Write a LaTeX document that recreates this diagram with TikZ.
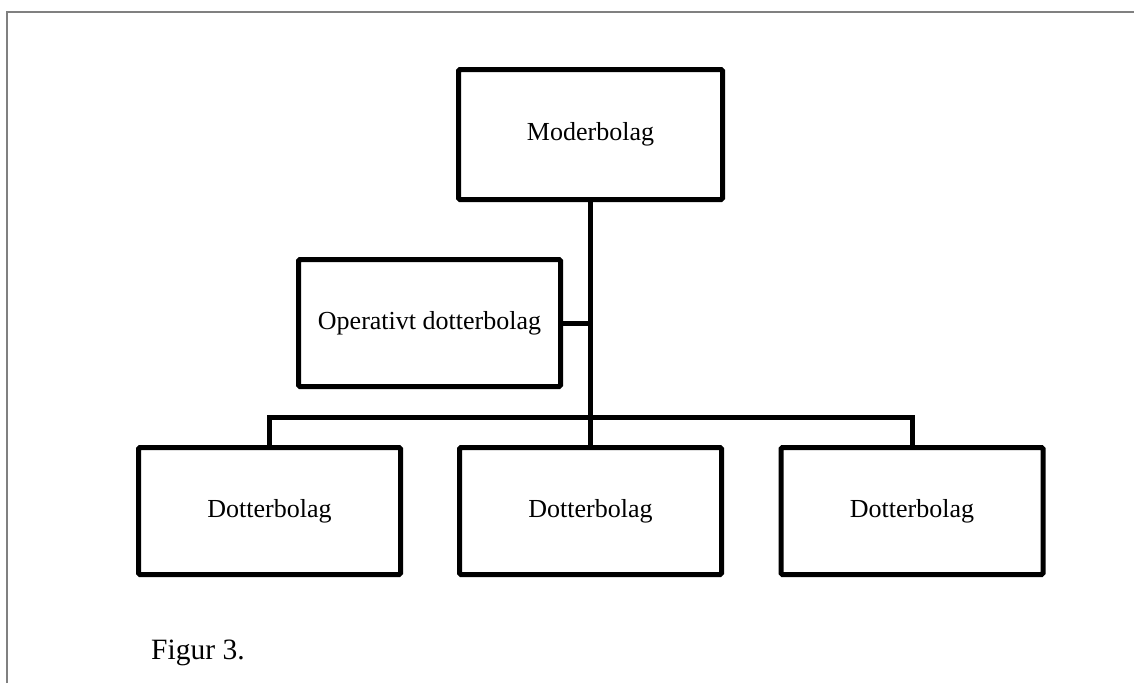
\documentclass[tikz,border=0pt]{standalone}
\usepackage{fontspec}
\setmainfont{Liberation Serif}
\begin{document}
\begin{tikzpicture}[x=1pt,y=-1pt,
  orgbox/.style={draw=black, line width=5pt, rounded corners=1.5pt, fill=white,
    minimum width=262pt, minimum height=127pt, inner sep=0pt,
    font=\fontsize{26}{30}\selectfont},
  link/.style={line width=5pt, draw=black},
  frameline/.style={line width=2pt, draw=black!50}]
\useasboundingbox (0,0) rectangle (1134,683);
\fill[white] (0,0) rectangle (1134,683);
\coordinate (ftl) at (7,12);
\coordinate (ftr) at (1134,12);
\coordinate (fbl) at (7,683);
\draw[frameline] (fbl) -- (ftl) -- (ftr);
\node[orgbox, minimum width=264pt, minimum height=130pt] (m) at (590.5,134.5) {Moderbolag};
\node[orgbox] (o) at (429.5,323) {Operativt dotterbolag};
\node[orgbox] (d1) at (269.5,511) {Dotterbolag};
\node[orgbox] (d2) at (590.5,511) {Dotterbolag};
\node[orgbox] (d3) at (912,511) {Dotterbolag};
\coordinate (bus) at (590.5,417);
\draw[link] (m.south) -- (d2.north);
\draw[link] (o.east) -- (o.east -| m.south);
\draw[link] (d1.north) |- (bus) -| (d3.north);
\node[font=\fontsize{29.5}{34}\selectfont, anchor=base west, inner sep=0pt] (cap) at (151,659) {Figur 3.};
\end{tikzpicture}
\end{document}
